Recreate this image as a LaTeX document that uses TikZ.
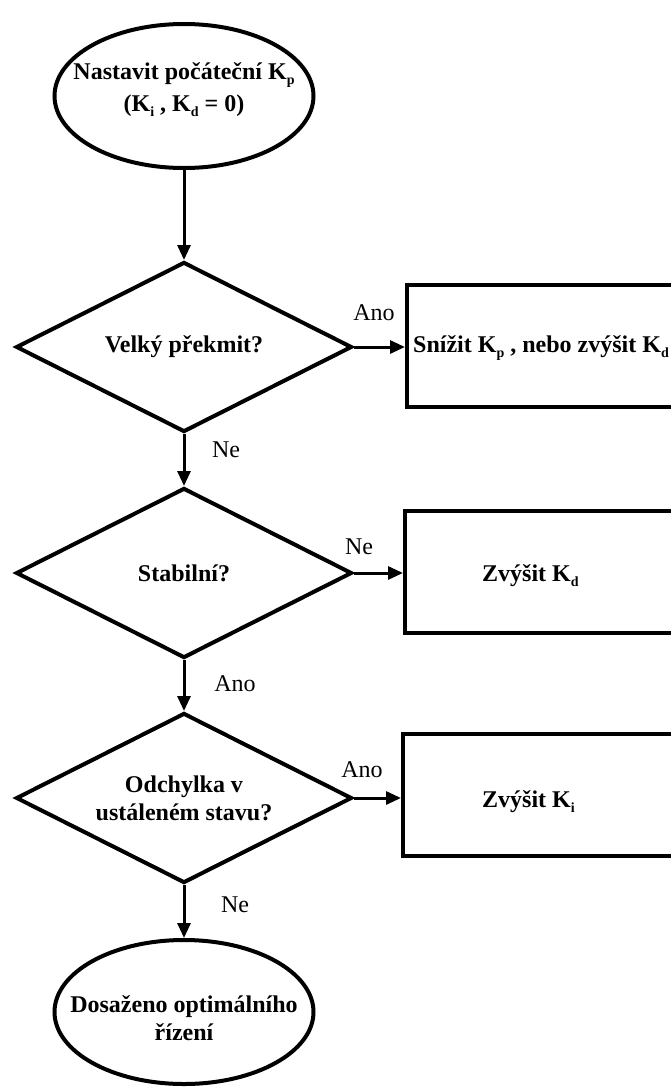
\documentclass[tikz,border=0pt]{standalone}
\usepackage{fontspec}
\setmainfont{Liberation Serif}
\usetikzlibrary{shapes.geometric,arrows.meta}
\newcommand{\boldtext}{\bfseries\fontsize{24}{28}\selectfont}
\newcommand{\idx}[1]{\raisebox{-5pt}{\fontsize{14}{14}\selectfont #1}}
\begin{document}
\begin{tikzpicture}[x=1pt,y=-1pt,
  caption/.style 2 args={label={[align=center,inner sep=0pt,yshift=#2,font=\boldtext]center:#1}},
  terminal/.style 2 args={ellipse,draw,line width=4pt,minimum width=259pt,minimum height=144pt,
    inner sep=0pt,caption={#1}{#2}},
  decision/.style={diamond,draw,line width=4pt,minimum width=336pt,minimum height=170pt,
    inner sep=0pt,caption={#1}{0pt}},
  action/.style={rectangle,draw,line width=4pt,minimum width=330pt,minimum height=122pt,
    anchor=west,inner sep=0pt},
  boxtext/.style={anchor=west,inner sep=0pt,font=\boldtext},
  flow/.style={line width=3pt,-{Triangle[length=15pt,width=13pt]}},
  answer/.style={inner sep=0pt,font=\fontsize{24}{28}\selectfont}]

\useasboundingbox (0,0) rectangle (670,1090);

% main column
\node[terminal={Nastavit počáteční K\idx{p}\\[4pt](K\idx{i} , K\idx{d} = 0)}{6pt}] (start) at (184,96) {};
\node[decision={Velký překmit?}] (d1) at (184,347) {};
\node[decision={Stabilní?}] (d2) at (184,573) {};
\node[decision={Odchylka v\\ustáleném stavu?}] (d3) at (184,798) {};
\node[terminal={Dosaženo optimálního\\řízení}{-6pt}] (finish) at (184,1012) {};

% corrective actions (boxes run past the right margin)
\node[action] (a1) at (405,346) {};
\node[action] (a2) at (403,572) {};
\node[action] (a3) at (401,795) {};
\node[boxtext] (t1) at (413,348) {Snížit K\idx{p} , nebo zvýšit K\idx{d}};
\node[boxtext] (t2) at (482,576) {Zvýšit K\idx{d}};
\node[boxtext] (t3) at (482,802) {Zvýšit K\idx{i}};

% connectors
\draw[flow] (start.south) -- (d1.north);
\draw[flow] (d1.south) -- (d2.north);
\draw[flow] (d2.south) -- (d3.north);
\draw[flow] (d3.south) -- (finish.north);
\draw[flow] (d1.east) -- (d1.east -| a1.west);
\draw[flow] (d2.east) -- (d2.east -| a2.west);
\draw[flow] (d3.east) -- (d3.east -| a3.west);

% branch labels
\node[answer] (l1) at (374,313) {Ano};
\node[answer] (l2) at (226,450) {Ne};
\node[answer] (l3) at (359,547) {Ne};
\node[answer] (l4) at (235,684) {Ano};
\node[answer] (l5) at (362,770) {Ano};
\node[answer] (l6) at (235,905) {Ne};
\end{tikzpicture}
\end{document}
